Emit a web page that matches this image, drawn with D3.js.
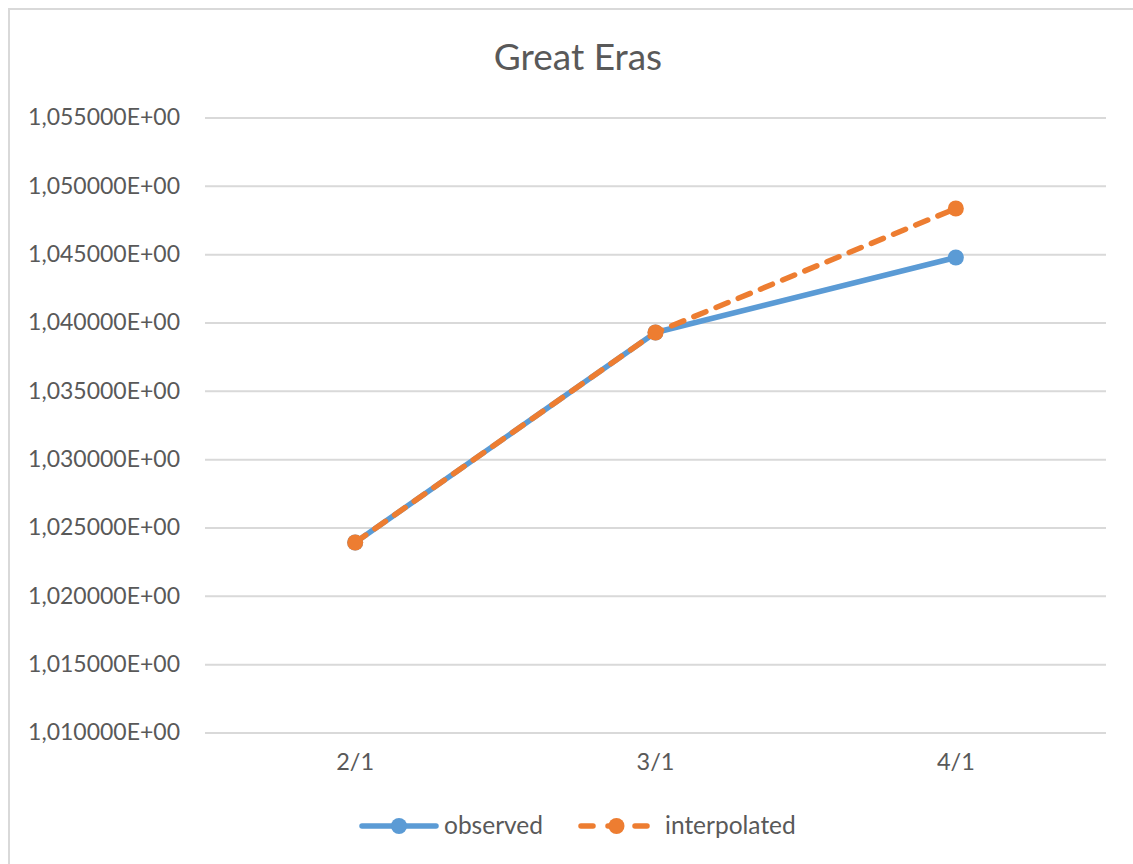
<!DOCTYPE html>
<html>
<head>
<meta charset="utf-8">
<script src="https://cdn.jsdelivr.net/npm/d3@7"></script>
<style>
  html, body { margin: 0; padding: 0; background: #fff; }
  svg { display: block; font-family: Lato, "Open Sans", sans-serif; }
</style>
</head>
<body>
<svg id="chart" width="1133" height="864"></svg>
<script>
// Series data
const categories = ["2/1", "3/1", "4/1"];
const observed = [1.023903, 1.039268, 1.044758];
const interpolated = [1.023903, 1.039268, 1.048343];
const yTicks = [1.010, 1.015, 1.020, 1.025, 1.030, 1.035, 1.040, 1.045, 1.050, 1.055];
const seriesNames = ["observed", "interpolated"];
const title = "Great Eras";

const svg = d3.select("#chart");
const W = 1133, H = 864;
const plot = { left: 205, right: 1106, top: 117.5, bottom: 732.5 };

// Chart frame
svg.append("rect")
  .attr("x", 9).attr("y", 9)
  .attr("width", W + 20).attr("height", H + 20)
  .attr("fill", "#fff").attr("stroke", "#d9d9d9").attr("stroke-width", 2);

const x = d3.scaleBand().domain(categories).range([plot.left, plot.right]);
const y = d3.scaleLinear().domain([1.010, 1.055]).range([plot.bottom, plot.top]);

// Number format like "1,055000E+00"
const fmt = v => {
  const e = Math.floor(Math.log10(Math.abs(v)));
  const m = v / Math.pow(10, e);
  const es = (e < 0 ? "-" : "+") + String(Math.abs(e)).padStart(2, "0");
  return m.toFixed(6).replace(".", ",") + "E" + es;
};

// Gridlines + y labels via axis
const yAxis = d3.axisLeft(y).tickValues(yTicks).tickFormat(fmt)
  .tickSize(-(plot.right - plot.left)).tickPadding(25);
const gy = svg.append("g").attr("transform", `translate(${plot.left},0)`).call(yAxis);
gy.select(".domain").remove();
gy.selectAll(".tick line").attr("stroke", "#d9d9d9").attr("stroke-width", 2);
gy.selectAll(".tick text").attr("fill", "#595959").attr("font-size", 23)
  .attr("font-family", "Lato, sans-serif");

// X labels
const xAxis = d3.axisBottom(x).tickSize(0).tickPadding(21);
const gx = svg.append("g").attr("transform", `translate(0,${plot.bottom})`).call(xAxis);
gx.select(".domain").remove();
gx.selectAll(".tick text").attr("fill", "#595959").attr("font-size", 23.5)
  .attr("font-family", "Lato, sans-serif");

// Title
svg.append("text")
  .attr("x", 578).attr("y", 70)
  .attr("text-anchor", "middle")
  .attr("fill", "#595959").attr("font-size", 37)
  .text(title);

const cx = d => x(d) + x.bandwidth() / 2;
const line = d3.line().x((d, i) => cx(categories[i])).y(d => y(d));

const series = [
  { name: seriesNames[0], values: observed, color: "#5b9bd5", dash: null },
  { name: seriesNames[1], values: interpolated, color: "#ed7d31", dash: "13,11" }
];

series.forEach(s => {
  svg.append("path")
    .datum(s.values)
    .attr("d", line)
    .attr("fill", "none")
    .attr("stroke", s.color)
    .attr("stroke-width", 5.5)
    .attr("stroke-linecap", "round")
    .attr("stroke-linejoin", "round")
    .attr("stroke-dasharray", s.dash);
  svg.append("g").selectAll("circle")
    .data(s.values)
    .join("circle")
    .attr("cx", (d, i) => cx(categories[i]))
    .attr("cy", d => y(d))
    .attr("r", 8)
    .attr("fill", s.color);
});

// Legend
const legend = [
  { s: series[0], x0: 362, x1: 436, tx: 444 },
  { s: series[1], x0: 581, x1: 652, tx: 665 }
];
const ly = 826;
legend.forEach(l => {
  const g = svg.append("g");
  g.append("line")
    .attr("x1", l.x0).attr("x2", l.x1).attr("y1", ly).attr("y2", ly)
    .attr("stroke", l.s.color).attr("stroke-width", 5.5)
    .attr("stroke-linecap", "round")
    .attr("stroke-dasharray", l.s.dash ? "12,15" : null);
  g.append("circle").attr("cx", (l.x0 + l.x1) / 2).attr("cy", ly).attr("r", 8)
    .attr("fill", l.s.color);
  g.append("text").attr("x", l.tx).attr("y", ly + 8)
    .attr("fill", "#595959").attr("font-size", 24.5)
    .text(l.s.name);
});
</script>
</body>
</html>
